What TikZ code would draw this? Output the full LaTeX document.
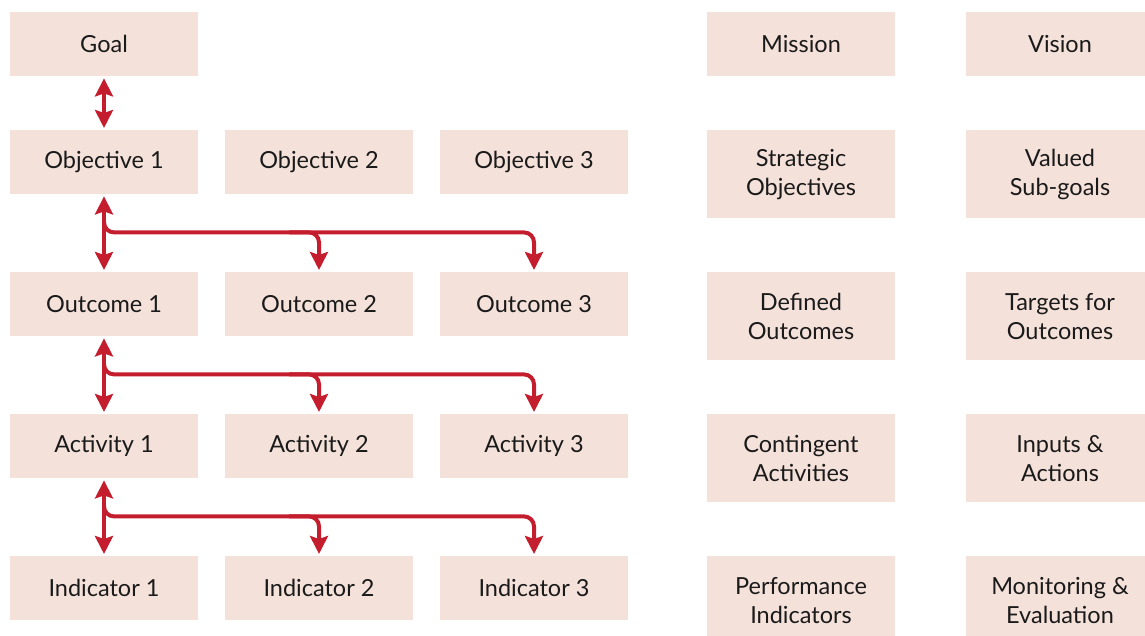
\documentclass[tikz,border=0pt]{standalone}
\usepackage{fontspec}
\setmainfont{Lato}
\usetikzlibrary{arrows.meta,positioning}
\definecolor{boxfill}{HTML}{F4E1DA}
\definecolor{arrowred}{HTML}{C41E2E}
\definecolor{jet}{HTML}{1A1A1A}

\begin{document}
\begin{tikzpicture}[x=1pt, y=-1pt,
  every node/.style={font=\fontsize{23.5}{29}\selectfont},
  box/.style={fill=boxfill, text=jet, anchor=north, minimum width=188pt,
    minimum height=64pt, inner sep=0pt, align=center},
  tallbox/.style={box, minimum height=88pt},
  link/.style={line width=4pt, color=arrowred,
    {Stealth[length=18pt,width=18pt,inset=3pt]}-{Stealth[length=18pt,width=18pt,inset=3pt]}},
  branch/.style={line width=4pt, color=arrowred, rounded corners=10pt,
    -{Stealth[length=18pt,width=18pt,inset=3pt]}}]
  \clip (0,0) rectangle (1145,636);
  % left columns
  \node[box] (goal) at (104,12) {Goal};
  \node[box] (obj1) at (104,130) {Objective 1};
  \node[box] (obj2) at (319,130) {Objective 2};
  \node[box] (obj3) at (534,130) {Objective 3};
  \node[box] (out1) at (104,272) {Outcome 1};
  \node[box] (out2) at (319,272) {Outcome 2};
  \node[box] (out3) at (534,272) {Outcome 3};
  \node[box] (act1) at (104,414) {Activity 1};
  \node[box] (act2) at (319,414) {Activity 2};
  \node[box] (act3) at (534,414) {Activity 3};
  \node[box] (ind1) at (104,556) {Indicator 1};
  \node[box] (ind2) at (319,556) {Indicator 2};
  \node[box] (ind3) at (534,556) {Indicator 3};
  % right columns
  \node[box] (mission) at (801,12) {Mission};
  \node[box] (vision) at (1060,12) {Vision};
  \node[tallbox] (strat) at (801,130) {Strategic\\Objectives};
  \node[tallbox] (subgoal) at (1060,130) {Valued\\Sub-goals};
  \node[tallbox] (defout) at (801,272) {Defined\\Outcomes};
  \node[tallbox] (target) at (1060,272) {Targets for\\Outcomes};
  \node[tallbox] (contact) at (801,414) {Contingent\\Activities};
  \node[tallbox] (inputs) at (1060,414) {Inputs \&\\Actions};
  \node[tallbox] (perf) at (801,556) {Performance\\Indicators};
  \node[tallbox] (monit) at (1060,556) {Monitoring \&\\Evaluation};
  % arrows
  \draw[link] ([yshift=-2pt]goal.south) -- ([yshift=2pt]obj1.north);
  \draw[link] ([yshift=-2pt]obj1.south) -- ([yshift=2pt]out1.north);
  \draw[link] ([yshift=-2pt]out1.south) -- ([yshift=2pt]act1.north);
  \draw[link] ([yshift=-2pt]act1.south) -- ([yshift=2pt]ind1.north);
  \draw[branch] ([yshift=-28pt]obj1.south) |- ([yshift=-38pt]obj3.south) -- ([yshift=2pt]out3.north);
  \draw[branch] ([xshift=-30pt,yshift=-38pt]obj2.south) -| ([yshift=2pt]out2.north);
  \draw[branch] ([yshift=-28pt]out1.south) |- ([yshift=-38pt]out3.south) -- ([yshift=2pt]act3.north);
  \draw[branch] ([xshift=-30pt,yshift=-38pt]out2.south) -| ([yshift=2pt]act2.north);
  \draw[branch] ([yshift=-28pt]act1.south) |- ([yshift=-38pt]act3.south) -- ([yshift=2pt]ind3.north);
  \draw[branch] ([xshift=-30pt,yshift=-38pt]act2.south) -| ([yshift=2pt]ind2.north);
\end{tikzpicture}
\end{document}
